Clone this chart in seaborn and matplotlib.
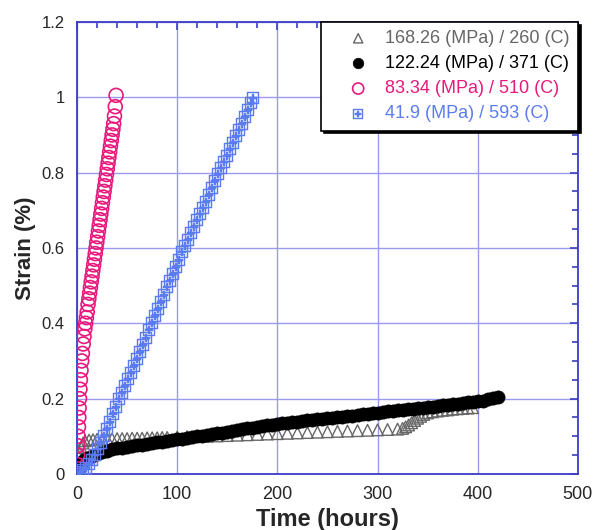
import matplotlib
matplotlib.use('Agg')
import matplotlib.pyplot as plt
from matplotlib.ticker import MultipleLocator
import pandas as pd
import seaborn as sns

# 168.26 MPa / 260 C  (gray triangles)
t_168 = [0, 1, 2, 4, 6, 8, 12, 16, 20, 25,
         30, 35, 40, 45, 50, 55, 60, 65, 70, 75,
         80, 85, 90, 100, 110, 120, 130, 140, 150, 160,
         170, 180, 190, 200, 210, 220, 230, 240, 250, 260,
         270, 280, 290, 300, 310, 320, 325, 328, 331, 334,
         337, 340, 343, 346, 350, 355, 360, 365, 370, 375,
         380, 385, 390, 395]
s_168 = [0.0, 0.05, 0.058, 0.07, 0.082, 0.088, 0.09, 0.091, 0.092, 0.092,
         0.093, 0.093, 0.094, 0.094, 0.094, 0.095, 0.095, 0.095, 0.096, 0.096,
         0.096, 0.097, 0.097, 0.098, 0.099, 0.1, 0.1, 0.101, 0.102, 0.103,
         0.104, 0.105, 0.106, 0.107, 0.108, 0.109, 0.11, 0.111, 0.112, 0.113,
         0.114, 0.115, 0.116, 0.117, 0.118, 0.119, 0.121, 0.125, 0.13, 0.136,
         0.142, 0.148, 0.153, 0.158, 0.162, 0.165, 0.167, 0.169, 0.17, 0.172,
         0.173, 0.174, 0.175, 0.176]

# 122.24 MPa / 371 C  (black dots)
t_122 = [0, 1, 2, 3, 5, 7, 10, 15, 20, 25,
         30, 35, 40, 45, 50, 55, 60, 65, 70, 75,
         80, 85, 90, 95, 100, 105, 110, 115, 120, 125,
         130, 135, 140, 145, 150, 155, 160, 165, 170, 175,
         180, 185, 190, 195, 200, 205, 210, 215, 220, 225,
         230, 235, 240, 245, 250, 255, 260, 265, 270, 275,
         280, 285, 290, 295, 300, 305, 310, 315, 320, 325,
         330, 335, 340, 345, 350, 355, 360, 365, 370, 375,
         380, 385, 390, 395, 400, 405, 410, 415, 420]
s_122 = [0.0, 0.012, 0.02, 0.026, 0.033, 0.038, 0.043, 0.049, 0.054, 0.058,
         0.062, 0.065, 0.068, 0.07, 0.072, 0.074, 0.076, 0.078, 0.08, 0.082,
         0.084, 0.086, 0.088, 0.09, 0.092, 0.094, 0.096, 0.098, 0.1, 0.102,
         0.104, 0.106, 0.108, 0.11, 0.112, 0.114, 0.117, 0.119, 0.121, 0.123,
         0.125, 0.127, 0.129, 0.131, 0.133, 0.134, 0.136, 0.137, 0.139, 0.14,
         0.142, 0.143, 0.145, 0.146, 0.148, 0.149, 0.151, 0.152, 0.154, 0.155,
         0.157, 0.158, 0.16, 0.161, 0.163, 0.164, 0.166, 0.167, 0.169, 0.17,
         0.172, 0.173, 0.175, 0.176, 0.178, 0.179, 0.181, 0.182, 0.184, 0.185,
         0.187, 0.188, 0.19, 0.191, 0.193, 0.195, 0.198, 0.201, 0.205]

# 83.34 MPa / 510 C  (pink open circles)
t_83 = [0, 0.3, 0.6, 0.9, 1.2, 1.5, 1.8, 2.1, 2.5, 2.9,
        3.4, 4.0, 4.7, 5.4, 6.2, 7.0, 7.8, 8.6, 9.4, 10.2,
        11.0, 11.8, 12.6, 13.4, 14.2, 15.0, 15.8, 16.6, 17.4, 18.2,
        19.0, 19.8, 20.6, 21.4, 22.2, 23.0, 23.8, 24.6, 25.4, 26.2,
        27.0, 27.8, 28.6, 29.4, 30.2, 31.0, 31.8, 32.6, 33.4, 34.2,
        35.0, 35.8, 36.6, 37.4, 38.2, 39.0]
s_83 = [0.0, 0.025, 0.05, 0.075, 0.1, 0.125, 0.15, 0.175, 0.2, 0.225,
        0.25, 0.275, 0.3, 0.32, 0.345, 0.365, 0.385, 0.4, 0.415, 0.43,
        0.45, 0.465, 0.48, 0.495, 0.51, 0.525, 0.54, 0.555, 0.57, 0.585,
        0.6, 0.615, 0.63, 0.645, 0.66, 0.675, 0.69, 0.705, 0.72, 0.735,
        0.75, 0.765, 0.78, 0.795, 0.81, 0.825, 0.84, 0.855, 0.87, 0.885,
        0.9, 0.915, 0.93, 0.95, 0.975, 1.005]

# 41.9 MPa / 593 C  (blue boxed squares)
t_41 = [0, 3, 6, 9, 12, 15, 18, 21, 24, 27,
        30, 33, 36, 39, 42, 45, 48, 51, 54, 57,
        60, 63, 66, 69, 72, 75, 78, 81, 84, 87,
        90, 93, 96, 99, 102, 105, 108, 111, 114, 117,
        120, 123, 126, 129, 132, 135, 138, 141, 144, 147,
        150, 153, 156, 159, 162, 165, 168, 171, 174, 176]
s_41 = [0.0, 0.005, 0.01, 0.017, 0.027, 0.038, 0.051, 0.065, 0.083, 0.101,
        0.12, 0.139, 0.159, 0.179, 0.198, 0.216, 0.234, 0.251, 0.269, 0.287,
        0.305, 0.324, 0.343, 0.362, 0.381, 0.4, 0.419, 0.438, 0.457, 0.476,
        0.495, 0.513, 0.531, 0.55, 0.569, 0.588, 0.606, 0.622, 0.639, 0.656,
        0.673, 0.69, 0.706, 0.723, 0.741, 0.759, 0.777, 0.795, 0.811, 0.828,
        0.845, 0.862, 0.879, 0.896, 0.913, 0.93, 0.948, 0.966, 0.985, 0.998]

labels = ['168.26 (MPa) / 260 (C)', '122.24 (MPa) / 371 (C)',
          '83.34 (MPa) / 510 (C)', '41.9 (MPa) / 593 (C)']
colors = ['#666666', '#000000', '#e8197c', '#5b7cf0']

sns.set_style('white')
plt.rcParams['font.family'] = ['Liberation Sans', 'DejaVu Sans']

GRID_C = '#9a9af0'
AXIS_C = '#3c3cc8'

fig = plt.figure(figsize=(5.97, 5.30), dpi=100)
ax = fig.add_axes([0.129, 0.1057, 0.839, 0.853])

df168 = pd.DataFrame({'t': t_168, 's': s_168})
df122 = pd.DataFrame({'t': t_122, 's': s_122})
df83 = pd.DataFrame({'t': t_83, 's': s_83})
df41 = pd.DataFrame({'t': t_41, 's': s_41})

sns.scatterplot(data=df168, x='t', y='s', ax=ax, marker='^', s=70,
                facecolor='none', edgecolor=colors[0], linewidth=1.0,
                label=labels[0], zorder=3)
sns.scatterplot(data=df122, x='t', y='s', ax=ax, marker='o', s=90,
                facecolor=colors[1], edgecolor=colors[1], linewidth=0.5,
                label=labels[1], zorder=4)
sns.scatterplot(data=df83, x='t', y='s', ax=ax, marker='o', s=100,
                facecolor='none', edgecolor=colors[2], linewidth=1.2,
                label=labels[2], zorder=5)
sns.scatterplot(data=df41, x='t', y='s', ax=ax, marker=r'$\boxplus$', s=85,
                color=colors[3], linewidth=0.3, edgecolor=colors[3],
                label=labels[3], zorder=5)

ax.set_xlim(0, 500)
ax.set_ylim(0, 1.2)
ax.xaxis.set_major_locator(MultipleLocator(100))
ax.xaxis.set_minor_locator(MultipleLocator(20))
ax.yaxis.set_major_locator(MultipleLocator(0.2))
ax.yaxis.set_minor_locator(MultipleLocator(0.05))
ax.set_yticks([0, 0.2, 0.4, 0.6, 0.8, 1, 1.2])
ax.set_yticklabels(['0', '0.2', '0.4', '0.6', '0.8', '1', '1.2'])

ax.grid(True, which='major', color=GRID_C, linewidth=1.0)
ax.set_axisbelow(True)
for sp in ax.spines.values():
    sp.set_color(AXIS_C)
    sp.set_linewidth(1.3)

ax.tick_params(which='both', direction='in', top=True, right=True,
               color=AXIS_C, width=1.2)
ax.tick_params(which='major', length=6)
ax.tick_params(which='minor', length=4)
ax.tick_params(axis='x', which='major', labelsize=13, pad=9)
ax.tick_params(axis='y', which='major', labelsize=12, pad=9)

ax.set_xlabel('Time (hours)', fontsize=17, fontweight='bold', labelpad=3)
ax.set_ylabel('Strain (%)', fontsize=16, fontweight='bold', labelpad=4)

handles, labs = ax.get_legend_handles_labels()
leg = ax.legend(handles, labs, loc='upper right', bbox_to_anchor=(1.0, 1.0),
                borderaxespad=0, fontsize=13, frameon=True, fancybox=False,
                edgecolor='black', framealpha=1,
                shadow={'color': 'black', 'alpha': 1},
                handlelength=3.2, handletextpad=-0.1, borderpad=0.45,
                labelspacing=0.45, scatterpoints=1, markerscale=0.8)
leg.get_frame().set_linewidth(1.2)
for txt, c in zip(leg.get_texts(), colors):
    txt.set_color(c)

fig.savefig('out.png', dpi=100)
